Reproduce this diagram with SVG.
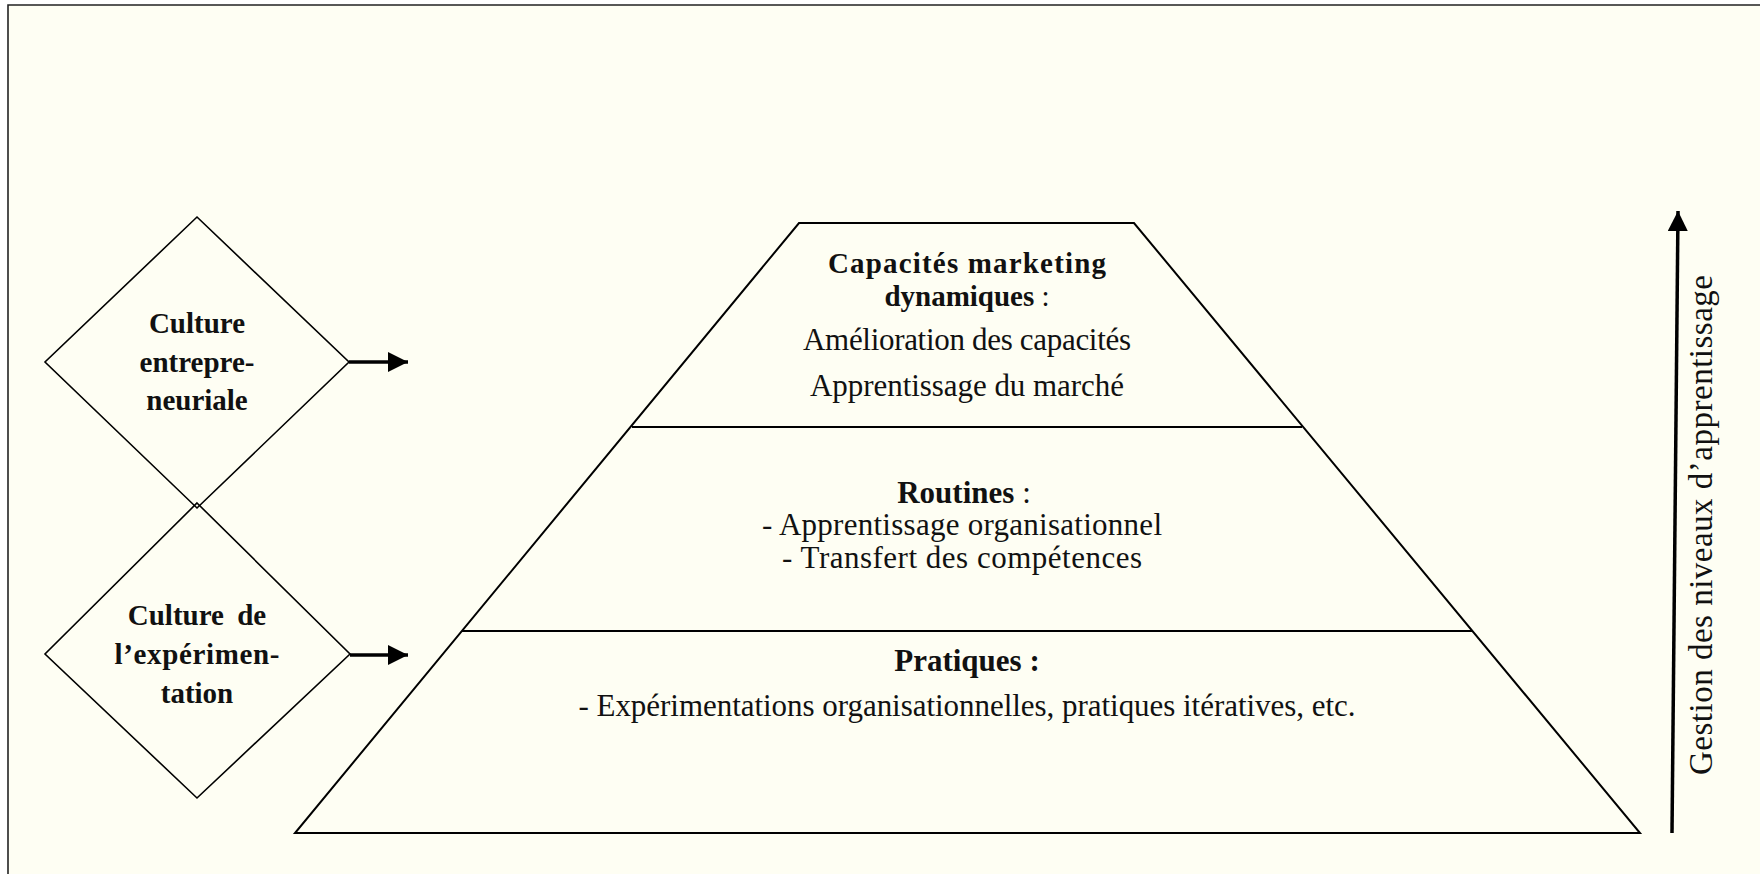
<svg xmlns="http://www.w3.org/2000/svg" width="1760" height="874" viewBox="0 0 1760 874">
<defs>
<style>
.t{font-family:"Liberation Serif","Times New Roman",serif;font-size:29px;fill:#111;text-anchor:middle}
.p{font-size:31px}
.b{font-weight:bold}
.n{font-weight:normal}
.shape{fill:none;stroke:#000;stroke-width:1.6}
.pyr{fill:none;stroke:#000;stroke-width:2}
.conn{stroke:#000;stroke-width:3.5;fill:none}
</style>
<marker id="ah" viewBox="0 0 20 20" refX="20" refY="10" markerWidth="20" markerHeight="20" markerUnits="userSpaceOnUse" orient="auto">
<path d="M0,0 L20,10 L0,20 Z" fill="#000"/>
</marker>
</defs>
<rect x="0" y="0" width="1760" height="874" fill="#ffffff"/>
<rect x="8" y="5" width="1760" height="880" fill="#fefef3"/>
<path d="M8,880 L8,5 L1760,5" fill="none" stroke="#222" stroke-width="1.6"/>

<g id="diamond-entrepreneuriale">
<polygon class="shape" points="197,217 349,362 197,508 45,362"/>
<text class="t b" x="197" y="333">Culture</text>
<text class="t b" x="197" y="372">entrepre-</text>
<text class="t b" x="197" y="410">neuriale</text>
</g>

<g id="diamond-experimentation">
<polygon class="shape" points="197,503 350,654 197,798 45,654"/>
<text class="t b" x="197" y="625" word-spacing="6">Culture de</text>
<text class="t b" x="197" y="664" textLength="165">l’expérimen-</text>
<text class="t b" x="197" y="703">tation</text>
</g>

<g id="pyramid">
<polygon class="pyr" points="799,223 1134,223 1640,833 295,833"/>
<line class="pyr" x1="632" y1="427" x2="1302" y2="427"/>
<line class="pyr" x1="462" y1="631" x2="1472" y2="631"/>
</g>

<g id="level-capacites">
<text class="t b" x="967" y="273" textLength="278">Capacités marketing</text>
<text class="t" x="967" y="306"><tspan class="b">dynamiques</tspan><tspan class="n"> :</tspan></text>
<text class="t p" x="967" y="350" textLength="328">Amélioration des capacités</text>
<text class="t p" x="967" y="396" textLength="314">Apprentissage du marché</text>
</g>

<g id="level-routines">
<text class="t p" x="964" y="503"><tspan class="b">Routines</tspan><tspan class="n"> :</tspan></text>
<text class="t p" x="962" y="535" textLength="400">- Apprentissage organisationnel</text>
<text class="t p" x="962" y="568" textLength="360">- Transfert des compétences</text>
</g>

<g id="level-pratiques">
<text class="t p b" x="967" y="671">Pratiques :</text>
<text class="t p" x="967" y="716" textLength="777">- Expérimentations organisationnelles, pratiques itératives, etc.</text>
</g>

<g id="axis-label">
<text class="t" style="font-size:33px" transform="translate(1712,525) rotate(-90)" x="0" y="0" textLength="500">Gestion des niveaux d’apprentissage</text>
</g>

<g id="connectors">
<line class="conn" x1="349" y1="362" x2="408" y2="362" marker-end="url(#ah)"/>
<line class="conn" x1="350" y1="655" x2="408" y2="655" marker-end="url(#ah)"/>
<line class="conn" x1="1672" y1="833" x2="1678" y2="211" marker-end="url(#ah)"/>
</g>
</svg>
